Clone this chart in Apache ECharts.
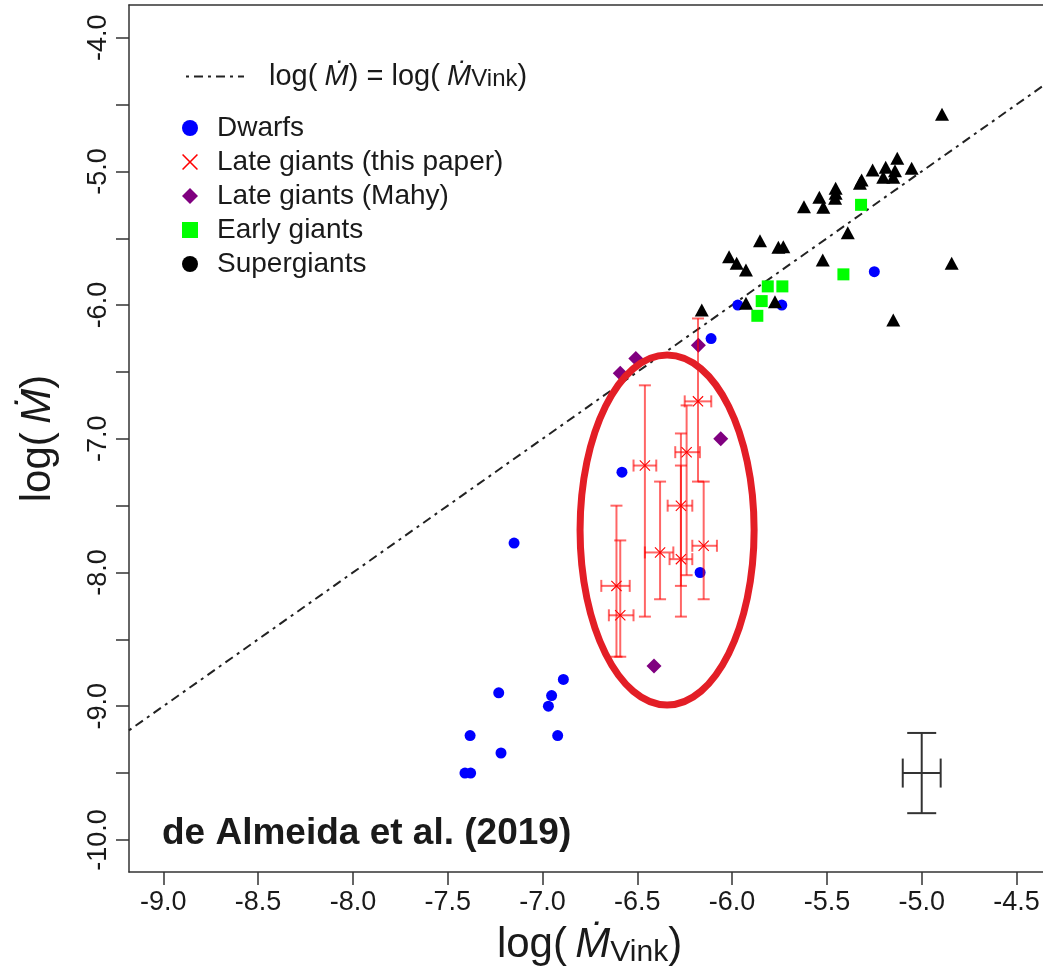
<!DOCTYPE html>
<html>
<head>
<meta charset="utf-8">
<script src="https://cdn.jsdelivr.net/npm/echarts@6/dist/echarts.min.js"></script>
<style>
html, body { margin: 0; padding: 0; overflow: hidden; background: #fff; }
#chart { width: 1052px; height: 974px; }
</style>
</head>
<body>
<div id="chart"></div>
<script>
// Axis ranges and tick positions
const xRange = [-9.181, -4.3234];
const yRange = [-10.240, -3.7554];
const xTicks = [-9.0, -8.5, -8.0, -7.5, -7.0, -6.5, -6.0, -5.5, -5.0, -4.5];
const yTicks = [-10.0, -9.5, -9.0, -8.5, -8.0, -7.5, -7.0, -6.5, -6.0, -5.5, -5.0, -4.5, -4.0];
const yLabels = [-10.0, -9.0, -8.0, -7.0, -6.0, -5.0, -4.0];

// [log Mdot_Vink, log Mdot]
const dwarfs = [
  [-7.150, -7.78], [-6.890, -8.80], [-7.231, -8.90], [-6.952, -8.92], [-6.969, -9.00],
  [-7.382, -9.22], [-6.920, -9.22], [-7.219, -9.35], [-7.409, -9.50], [-7.379, -9.50],
  [-6.581, -7.25], [-6.169, -8.00], [-6.111, -6.25], [-5.970, -6.00], [-5.738, -6.00],
  [-5.250, -5.75]
];
const lateGiantsMahy = [
  [-6.508, -6.40], [-6.590, -6.51], [-6.178, -6.30], [-6.060, -7.00], [-6.412, -8.70]
];
const earlyGiants = [
  [-5.320, -5.25], [-5.413, -5.77], [-5.812, -5.86], [-5.735, -5.86], [-5.844, -5.97],
  [-5.867, -6.08]
];
const supergiants = [
  [-4.893, -4.573], [-5.129, -4.902], [-5.259, -4.990], [-5.190, -4.969], [-5.141, -4.995],
  [-5.053, -4.977], [-5.203, -5.044], [-5.150, -5.044], [-5.317, -5.064], [-5.326, -5.089],
  [-5.454, -5.126], [-5.454, -5.164], [-5.457, -5.201], [-5.540, -5.194], [-5.621, -5.264],
  [-5.519, -5.269], [-5.390, -5.458], [-5.853, -5.518], [-5.756, -5.568], [-5.730, -5.563],
  [-6.016, -5.638], [-5.976, -5.687], [-5.927, -5.737], [-5.522, -5.663], [-4.842, -5.687],
  [-5.927, -5.987], [-5.774, -5.975], [-6.160, -6.037], [-5.150, -6.111]
];
// [x, y, xLow, xHigh, yLow, yHigh]
const lateGiantsThis = [
  [-6.18, -6.72, -6.25, -6.11, -7.32, -6.10],
  [-6.24, -7.10, -6.30, -6.17, -8.02, -6.75],
  [-6.46, -7.20, -6.52, -6.40, -8.33, -6.60],
  [-6.27, -7.50, -6.34, -6.21, -8.10, -6.96],
  [-6.38, -7.85, -6.46, -6.31, -8.20, -7.32],
  [-6.27, -7.90, -6.33, -6.21, -8.33, -7.20],
  [-6.15, -7.80, -6.21, -6.08, -8.20, -7.32],
  [-6.61, -8.10, -6.69, -6.54, -8.63, -7.50],
  [-6.59, -8.32, -6.65, -6.52, -8.63, -7.76]
];
// Typical uncertainty shown in the lower right corner
const typicalError = [[-5.0, -9.5, -5.1, -4.9, -9.8, -9.2]];
// One-to-one relation endpoints
const oneToOne = [[xRange[0], xRange[0]], [xRange[1], xRange[1]]];
// Highlighted region: [centre x, centre y, radius x, radius y]
const highlight = [[-6.343, -7.682, 0.459, 1.309]];

const TEXT = '#1a1a1a';
const FONT = 'Liberation Sans, Arial, sans-serif';
const crossPath = 'path://M0,0.7L0.7,0L10,9.3L9.3,10ZM9.3,0L10,0.7L0.7,10L0,9.3Z';

function errorBars(cap, color, width) {
  return function (params, api) {
    const x = api.value(0), y = api.value(1);
    const c = api.coord([x, y]);
    const l = api.coord([api.value(2), y]);
    const r = api.coord([api.value(3), y]);
    const b = api.coord([x, api.value(4)]);
    const t = api.coord([x, api.value(5)]);
    const h = cap / 2;
    const style = { stroke: color, lineWidth: width, fill: null };
    const seg = (x1, y1, x2, y2) => ({ type: 'line', shape: { x1, y1, x2, y2 }, style });
    return {
      type: 'group',
      children: [
        seg(l[0], c[1], r[0], c[1]),
        seg(l[0], c[1] - h, l[0], c[1] + h),
        seg(r[0], c[1] - h, r[0], c[1] + h),
        seg(c[0], b[1], c[0], t[1]),
        seg(c[0] - h, b[1], c[0] + h, b[1]),
        seg(c[0] - h, t[1], c[0] + h, t[1])
      ]
    };
  };
}

const richText = {
  n: { fontFamily: FONT, fontSize: 29, color: TEXT, lineHeight: 30 },
  i: { fontFamily: FONT, fontSize: 29, fontStyle: 'italic', color: TEXT, lineHeight: 30 },
  s: { fontFamily: FONT, fontSize: 24, color: TEXT, lineHeight: 18, verticalAlign: 'bottom' }
};
const richTitle = {
  n: { fontFamily: FONT, fontSize: 42, color: TEXT, lineHeight: 46 },
  i: { fontFamily: FONT, fontSize: 42, fontStyle: 'italic', color: TEXT, lineHeight: 46 },
  s: { fontFamily: FONT, fontSize: 30, color: TEXT, lineHeight: 24, verticalAlign: 'bottom' }
};

const chart = echarts.init(document.getElementById('chart'), null, { renderer: 'canvas' });

chart.setOption({
  animation: false,
  backgroundColor: '#fff',
  grid: { left: 129, right: 2, top: 5, bottom: 102 },
  xAxis: [{
    type: 'value', min: xRange[0], max: xRange[1], position: 'bottom',
    name: '{n|log(\u2009}{i|\u1E40}{s|Vink}{n|)}',
    nameLocation: 'middle', nameGap: 50,
    nameTextStyle: { rich: richTitle },
    axisLine: { show: true, lineStyle: { color: '#333', width: 1.5 } },
    axisTick: { show: true, length: 13, customValues: xTicks, lineStyle: { color: '#333', width: 1.5 } },
    axisLabel: { customValues: xTicks, margin: 17, fontSize: 27, fontFamily: FONT, color: TEXT,
                 formatter: v => v.toFixed(1) },
    splitLine: { show: false }
  }, {
    type: 'value', min: xRange[0], max: xRange[1], position: 'top',
    axisLine: { show: true, lineStyle: { color: '#333', width: 1.5 } },
    axisTick: { show: false }, axisLabel: { show: false }, splitLine: { show: false }
  }],
  yAxis: {
    type: 'value', min: yRange[0], max: yRange[1],
    name: '{n|log(\u2009}{i|\u1E40}{n|)}',
    nameLocation: 'middle', nameGap: 68, nameRotate: 90,
    nameTextStyle: { rich: richTitle },
    axisLine: { show: true, lineStyle: { color: '#333', width: 1.5 } },
    axisTick: { show: true, length: 13, customValues: yTicks, lineStyle: { color: '#333', width: 1.5 } },
    axisLabel: { customValues: yLabels, rotate: 90, margin: 17, fontSize: 27, fontFamily: FONT, color: TEXT,
                 formatter: v => v.toFixed(1) },
    splitLine: { show: false }
  },
  legend: [{
    left: 185, top: 62, padding: 0, orient: 'vertical',
    itemWidth: 58, itemHeight: 14,
    data: ['oneToOne'],
    itemStyle: { opacity: 0 },
    lineStyle: { color: '#222', width: 2, type: [3, 5, 9, 5], opacity: 1 },
    formatter: () => '{n|log(\u2005}{i|\u1E40}{n|) = log(\u2005}{i|\u1E40}{s|Vink}{n|)}',
    textStyle: { rich: richText, padding: [0, 0, 0, 20] }
  }, {
    left: 182, top: 113, padding: 0, orient: 'vertical',
    itemWidth: 16, itemHeight: 16, itemGap: 4,
    data: [
      { name: 'Dwarfs', icon: 'circle' },
      { name: 'Late giants (this paper)', icon: crossPath },
      { name: 'Late giants (Mahy)', icon: 'diamond' },
      { name: 'Early giants', icon: 'rect' },
      { name: 'Supergiants', icon: 'circle' }
    ],
    textStyle: { fontFamily: FONT, fontSize: 28, color: TEXT, lineHeight: 30, padding: [0, 0, 0, 14] }
  }],
  graphic: [{
    type: 'text', left: 162, top: 815,
    style: { text: 'de Almeida et al. (2019)', font: 'bold 37px ' + FONT, fill: TEXT }
  }],
  series: [
    {
      name: 'oneToOne', type: 'line', data: oneToOne, symbol: 'none', silent: true,
      itemStyle: { color: '#222' },
      lineStyle: { color: '#222', width: 2, type: [3, 5, 9, 5] }, z: 1
    },
    {
      name: 'Dwarfs', type: 'scatter', data: dwarfs, symbol: 'circle', symbolSize: 11,
      itemStyle: { color: '#0000ff', opacity: 1 }, z: 3
    },
    {
      name: 'Late giants (Mahy)', type: 'scatter', data: lateGiantsMahy, symbol: 'diamond', symbolSize: 15,
      itemStyle: { color: '#800080', opacity: 1 }, z: 3
    },
    {
      name: 'Early giants', type: 'scatter', data: earlyGiants, symbol: 'rect', symbolSize: 12,
      itemStyle: { color: '#00ff00', opacity: 1 }, z: 3
    },
    {
      name: 'Supergiants', type: 'scatter', data: supergiants, symbol: 'triangle', symbolSize: [14, 13],
      itemStyle: { color: '#000000', opacity: 1 }, z: 3
    },
    {
      name: 'lateGiantsBars', type: 'custom', data: lateGiantsThis,
      renderItem: errorBars(12, 'rgba(255,0,0,0.6)', 2), z: 4
    },
    {
      name: 'Late giants (this paper)', type: 'scatter', data: lateGiantsThis.map(d => [d[0], d[1]]),
      symbol: crossPath, symbolSize: 11, itemStyle: { color: '#ff0000', opacity: 1 }, z: 5
    },
    {
      name: 'typicalError', type: 'custom', data: typicalError,
      renderItem: errorBars(29, '#333', 2), z: 4
    },
    {
      name: 'highlight', type: 'custom', data: highlight, z: 6,
      renderItem: function (params, api) {
        const c = api.coord([api.value(0), api.value(1)]);
        const s = api.size([api.value(2), api.value(3)]);
        return {
          type: 'ellipse',
          shape: { cx: c[0], cy: c[1], rx: s[0], ry: s[1] },
          style: { stroke: '#e31e26', lineWidth: 7, fill: null }
        };
      }
    }
  ]
});
</script>
</body>
</html>
